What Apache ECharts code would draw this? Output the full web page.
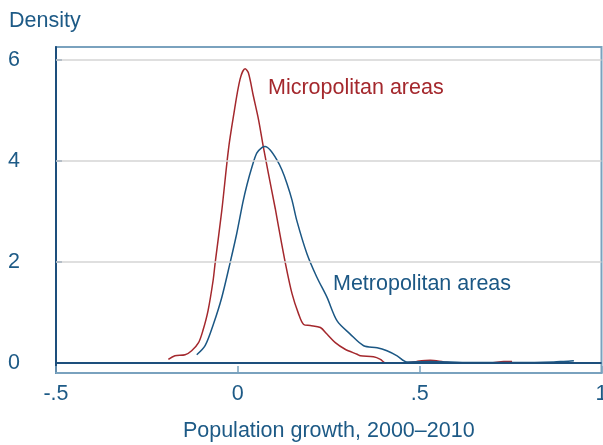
<!DOCTYPE html>
<html>
<head>
<meta charset="utf-8">
<script src="https://cdn.jsdelivr.net/npm/echarts@6/dist/echarts.min.js"></script>
<style>html,body{margin:0;padding:0;background:#fff}#c{width:603px;height:445px}</style>
</head>
<body>
<div id="c"></div>
<script>
// Micropolitan areas density: [growth, density]
var microX = [-0.191,-0.173,-0.145,-0.127,-0.108,-0.096,-0.082,-0.068,-0.062,-0.044,-0.026,-0.012,0.006,0.020,0.029,0.043,0.057,0.070,0.084,0.103,0.112,0.130,0.149,0.167,0.181,0.199,0.227,0.245,0.268,0.295,0.328,0.337,0.373,0.392,0.406,0.465,0.493,0.529,0.566,0.593,0.694,0.731,0.754];
var microY = [0.07,0.14,0.16,0.24,0.40,0.64,1.03,1.63,2.00,3.02,4.21,4.88,5.61,5.82,5.74,5.27,4.81,4.28,3.75,3.05,2.69,2.00,1.37,0.97,0.76,0.74,0.70,0.57,0.40,0.27,0.17,0.14,0.12,0.07,0.00,0.00,0.03,0.05,0.02,0.00,0.00,0.03,0.03];
// Metropolitan areas density
var metroX = [-0.113,-0.090,-0.067,-0.044,-0.021,-0.003,0.014,0.025,0.039,0.052,0.066,0.075,0.089,0.107,0.121,0.135,0.149,0.162,0.190,0.217,0.245,0.273,0.309,0.346,0.383,0.410,0.438,0.465,0.529,0.639,0.777,0.869,0.896,0.924];
var metroY = [0.16,0.34,0.77,1.30,1.99,2.56,3.18,3.52,3.88,4.15,4.26,4.28,4.21,4.02,3.82,3.55,3.22,2.82,2.16,1.70,1.30,0.83,0.57,0.34,0.30,0.24,0.14,0.02,0.03,0.01,0.01,0.02,0.03,0.04];
// Axis ticks
var xTickValues = [-0.5, 0, 0.5, 1];
var xTickLabels = ['-.5', '0', '.5', '1'];
var yTickValues = [0, 2, 4, 6];
var yTickLabels = ['0', '2', '4', '6'];
var gridValues = [2, 4, 6];

var FONT = '"Liberation Sans", Arial, sans-serif';
var FS = 21.5;
var TXT = '#1d5a86';
var RED = '#a4282d';
var BLUE = '#1b5784';

function pairs(xs, ys){ return xs.map(function(x,i){ return [x, ys[i]]; }); }

var chart = echarts.init(document.getElementById('c'));
chart.setOption({
  animation: false,
  backgroundColor: '#fff',
  grid: {left: 56, top: 47, right: 1.5, bottom: 72, show: true, borderColor: '#7aa2be', borderWidth: 2, containLabel: false, outerBoundsMode: 'none'},
  xAxis: {
    type: 'value', min: -0.5, max: 1, interval: 0.5,
    name: 'Population growth, 2000\u20132010', nameLocation: 'middle', nameGap: 47,
    nameTextStyle: {color: TXT, fontSize: FS, fontFamily: FONT},
    axisLine: {show: true, onZero: false, lineStyle: {color: '#7aa2be', width: 2}},
    axisTick: {show: true, inside: true, length: 7, lineStyle: {color: '#7aa2be', width: 1.5}},
    axisLabel: {color: TXT, fontSize: FS, fontFamily: FONT, margin: 10,
      formatter: function(v){ var i = xTickValues.indexOf(v); return i >= 0 ? xTickLabels[i] : ''; }},
    splitLine: {show: false}
  },
  yAxis: {
    type: 'value', min: -0.2, max: 6.25,
    axisLine: {show: true, onZero: false, lineStyle: {color: '#1d4f7c', width: 2}},
    axisTick: {show: true, inside: true, length: 6, customValues: yTickValues, lineStyle: {color: '#1d4f7c', width: 1.5}},
    axisLabel: {color: TXT, fontSize: FS, fontFamily: FONT, margin: 36, customValues: yTickValues,
      formatter: function(v){ var i = yTickValues.indexOf(v); return i >= 0 ? yTickLabels[i] : ''; }},
    splitLine: {show: false}
  },
  graphic: [
    {type: 'text', left: 9, top: 10, style: {text: 'Density', fill: TXT, font: FS + 'px ' + FONT}},
    {type: 'text', left: 268, top: 77, style: {text: 'Micropolitan areas', fill: RED, font: FS + 'px ' + FONT}},
    {type: 'text', left: 333, top: 273, style: {text: 'Metropolitan areas', fill: BLUE, font: FS + 'px ' + FONT}}
  ],
  series: [
    {type: 'line', data: [], z: 1, silent: true,
      markLine: {silent: true, symbol: 'none', label: {show: false}, animation: false,
        lineStyle: {color: '#d4d4d4', width: 1.5, type: 'solid'},
        data: gridValues.map(function(v){ return {yAxis: v}; })}},
    {type: 'line', name: 'Micropolitan areas', data: pairs(microX, microY), showSymbol: false, smooth: 0.3,
      lineStyle: {color: RED, width: 1.5}, itemStyle: {color: RED}, z: 3},
    {type: 'line', name: 'Metropolitan areas', data: pairs(metroX, metroY), showSymbol: false, smooth: 0.3,
      lineStyle: {color: BLUE, width: 1.5}, itemStyle: {color: BLUE}, z: 3,
      markLine: {silent: true, symbol: 'none', label: {show: false}, animation: false,
        lineStyle: {color: '#1d4f7c', width: 2, type: 'solid'},
        data: [{yAxis: 0}]}}
  ]
});
</script>
</body>
</html>
